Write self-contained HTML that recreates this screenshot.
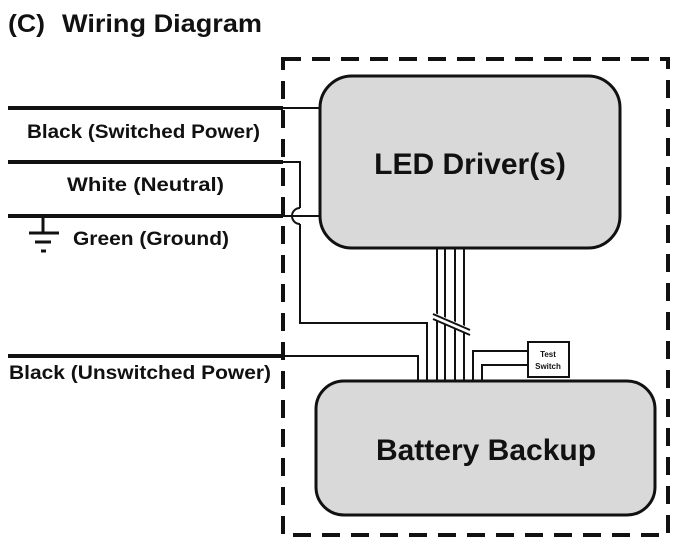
<!DOCTYPE html>
<html><head><meta charset="utf-8"><style>
html,body{margin:0;padding:0;background:#fff;}
svg{display:block;}
text{font-family:"Liberation Sans",Arial,sans-serif;font-weight:bold;fill:#111;}
</style></head><body>
<svg width="688" height="552" viewBox="0 0 688 552" xmlns="http://www.w3.org/2000/svg">
<text x="8" y="32" font-size="25" textLength="37" lengthAdjust="spacingAndGlyphs">(C)</text>
<text x="62" y="32" font-size="25" textLength="200" lengthAdjust="spacingAndGlyphs">Wiring Diagram</text>
<rect x="283" y="59" width="385" height="476" fill="none" stroke="#111" stroke-width="4" stroke-dasharray="18,11"/>
<rect x="320" y="76" width="300" height="172" rx="32" fill="#d9d9d9" stroke="#111" stroke-width="3"/>
<rect x="316" y="381" width="339" height="134" rx="28" fill="#d9d9d9" stroke="#111" stroke-width="3"/>
<text x="470" y="174" font-size="30" text-anchor="middle">LED Driver(s)</text>
<text x="486" y="460" font-size="30" text-anchor="middle">Battery Backup</text>
<g stroke="#111" fill="none">
<line x1="8" y1="108" x2="283" y2="108" stroke-width="4"/>
<line x1="8" y1="162" x2="283" y2="162" stroke-width="4"/>
<line x1="8" y1="216" x2="283" y2="216" stroke-width="4"/>
<line x1="8" y1="356" x2="283" y2="356" stroke-width="4"/>
<g stroke-width="2">
<line x1="283" y1="108" x2="320" y2="108"/>
<polyline points="283,162 300,162 300,208"/>
<path d="M300,208 A8,8 0 0 0 300,224"/>
<polyline points="300,224 300,323 427,323 427,381"/>
<line x1="283" y1="216" x2="320" y2="216"/>
<polyline points="283,356 418,356 418,381"/>
<line x1="437" y1="248" x2="437" y2="381"/>
<line x1="445" y1="248" x2="445" y2="381"/>
<line x1="455" y1="248" x2="455" y2="381"/>
<line x1="464" y1="248" x2="464" y2="381"/>
<polyline points="473,381 473,351 528,351"/>
<polyline points="482,381 482,365 528,365"/>
<rect x="528" y="342" width="41" height="35" fill="#fff"/>
</g>
<line x1="433" y1="316" x2="470" y2="332" stroke="#fff" stroke-width="7"/>
<line x1="433" y1="314" x2="470" y2="330" stroke-width="2"/>
<line x1="433" y1="319" x2="470" y2="335" stroke-width="2"/>
<line x1="43" y1="216" x2="43" y2="233" stroke-width="3"/>
<line x1="29" y1="233" x2="59" y2="233" stroke-width="3"/>
<line x1="35" y1="242" x2="51" y2="242" stroke-width="3"/>
<line x1="41" y1="251" x2="46" y2="251" stroke-width="3"/>
</g>
<text x="548" y="357" font-size="8" font-weight="normal" text-anchor="middle">Test</text>
<text x="548" y="369" font-size="8" font-weight="normal" text-anchor="middle">Switch</text>
<text x="27" y="138" font-size="19" textLength="233" lengthAdjust="spacingAndGlyphs">Black (Switched Power)</text>
<text x="67" y="191" font-size="19" textLength="157" lengthAdjust="spacingAndGlyphs">White (Neutral)</text>
<text x="73" y="245" font-size="19" textLength="156" lengthAdjust="spacingAndGlyphs">Green (Ground)</text>
<text x="9" y="379" font-size="19" textLength="262" lengthAdjust="spacingAndGlyphs">Black (Unswitched Power)</text>
</svg>
</body></html>
